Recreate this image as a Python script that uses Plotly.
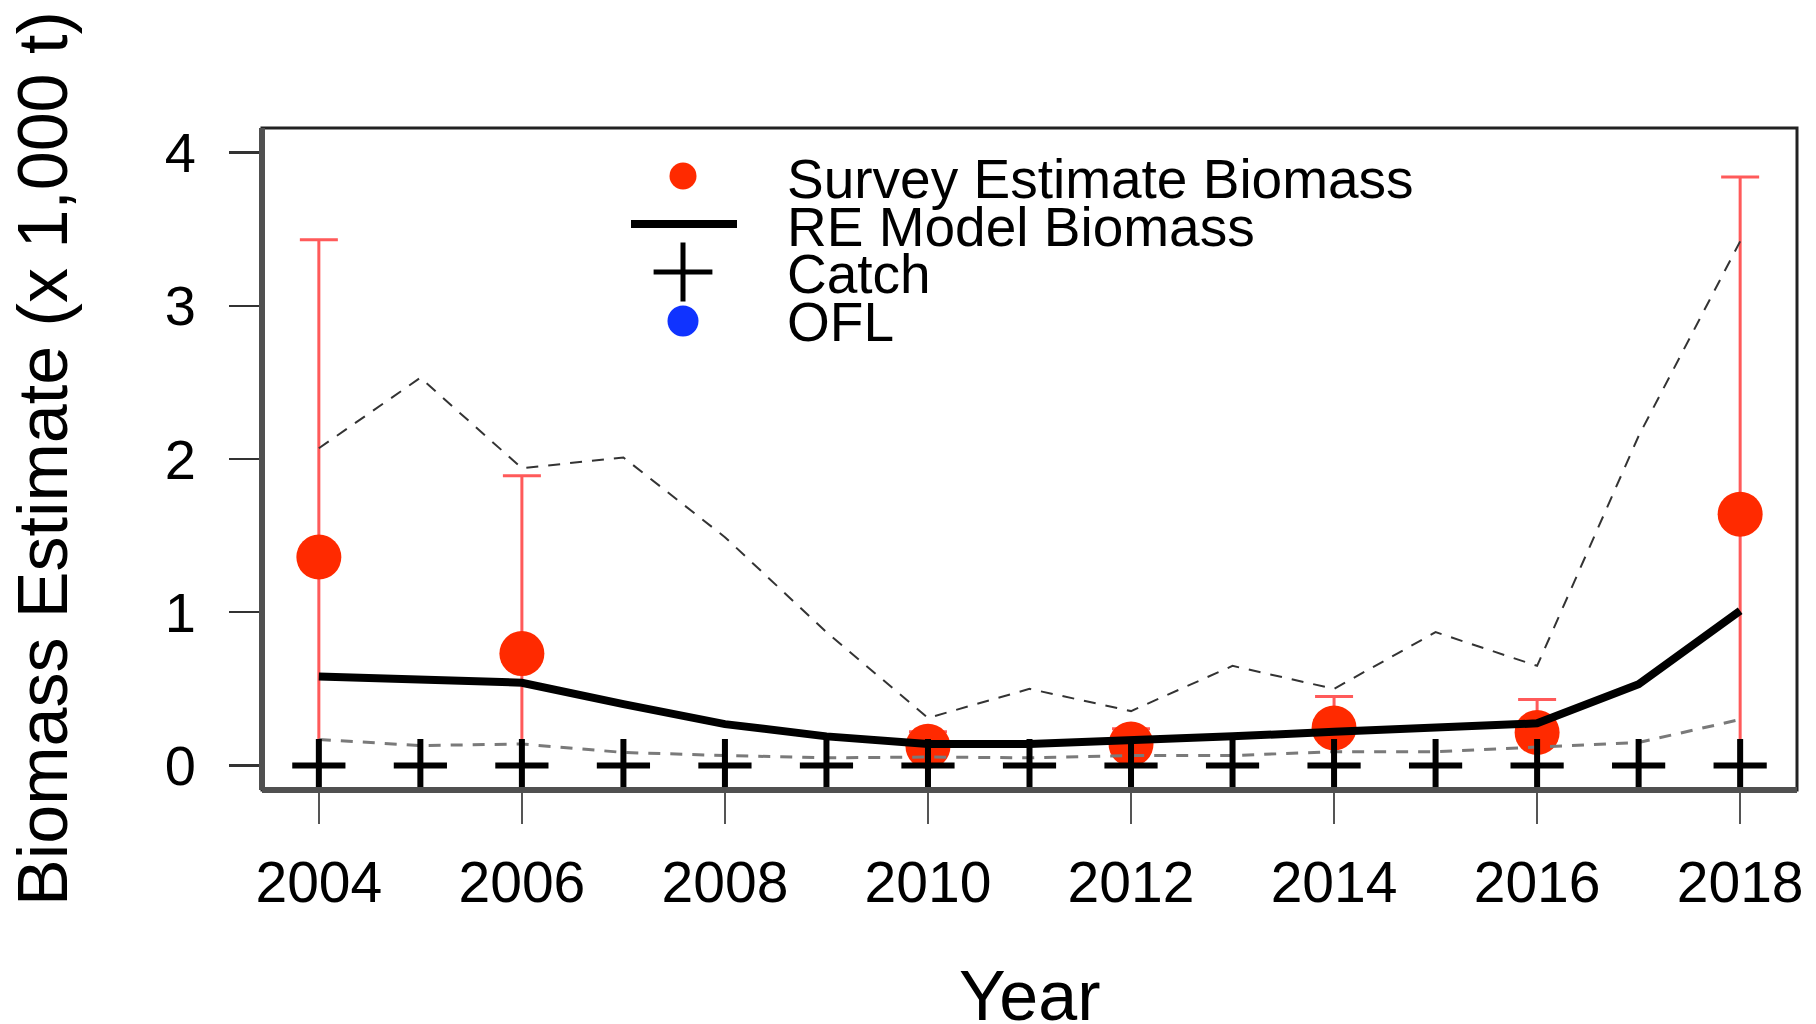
import plotly.graph_objects as go

# ---------------- data ----------------
years = [2004, 2005, 2006, 2007, 2008, 2009, 2010, 2011, 2012, 2013, 2014, 2015, 2016, 2017, 2018]
re_biomass = [0.58, 0.56, 0.54, 0.40, 0.27, 0.19, 0.14, 0.14, 0.16, 0.19, 0.22, 0.245, 0.275, 0.53, 1.01]
re_upper = [2.07, 2.53, 1.94, 2.01, 1.49, 0.87, 0.31, 0.50, 0.355, 0.65, 0.50, 0.87, 0.65, 2.15, 3.42]
re_lower = [0.17, 0.13, 0.14, 0.085, 0.065, 0.05, 0.055, 0.05, 0.065, 0.065, 0.09, 0.09, 0.12, 0.15, 0.30]
catch = [0.0, 0.0, 0.0, 0.0, 0.0, 0.0, 0.0, 0.0, 0.0, 0.0, 0.0, 0.0, 0.0, 0.0, 0.0]

survey_years = [2004, 2006, 2010, 2012, 2014, 2016, 2018]
survey_biomass = [1.36, 0.73, 0.125, 0.14, 0.245, 0.215, 1.64]
survey_upper = [3.43, 1.89, 0.22, 0.24, 0.45, 0.43, 3.84]
survey_lower = [0.0, 0.0, 0.0, 0.0, 0.0, 0.0, 0.0]

x_ticks = [2004, 2006, 2008, 2010, 2012, 2014, 2016, 2018]
y_ticks = [0, 1, 2, 3, 4]

legend_labels = ["Survey Estimate Biomass", "RE Model Biomass", "Catch", "OFL"]

FONT = "Liberation Sans, Arial, Helvetica, sans-serif"
W, H = 1816, 1024
L, R, T, B = 262, 1797, 128, 790  # plot-area pixel box

fig = go.Figure()

# survey estimates with error bars
fig.add_trace(go.Scatter(
    x=survey_years, y=survey_biomass, mode="markers",
    marker=dict(color="#ff2a00", size=45, line=dict(width=0)),
    error_y=dict(type="data", symmetric=False,
                 array=[u - v for u, v in zip(survey_upper, survey_biomass)],
                 arrayminus=[v - l for v, l in zip(survey_biomass, survey_lower)],
                 color="#ff5a5a", thickness=3, width=19),
    showlegend=False, cliponaxis=False))

# confidence bounds of RE model
fig.add_trace(go.Scatter(x=years, y=re_upper, mode="lines",
                         line=dict(color="#333333", width=2, dash="12px,10px"),
                         showlegend=False))
fig.add_trace(go.Scatter(x=years, y=re_lower, mode="lines",
                         line=dict(color="#7a7a7a", width=3, dash="12px,10px"),
                         showlegend=False))
# RE model biomass
fig.add_trace(go.Scatter(x=years, y=re_biomass, mode="lines",
                         line=dict(color="black", width=8),
                         showlegend=False))
# catch
fig.add_trace(go.Scatter(x=years, y=catch, mode="markers",
                         marker=dict(symbol="cross-thin", size=38,
                                     line=dict(color="black", width=6)),
                         showlegend=False, cliponaxis=False))

# ---------------- manual legend on a pixel helper axis ----------------
leg_x = 683
leg_rows = [176, 224, 272, 321]
fig.add_trace(go.Scatter(x=[leg_x], y=[leg_rows[0]], xaxis="x2", yaxis="y2", mode="markers",
                         marker=dict(color="#ff2a00", size=27), showlegend=False, hoverinfo="skip"))
fig.add_trace(go.Scatter(x=[631, 737], y=[leg_rows[1], leg_rows[1]], xaxis="x2", yaxis="y2",
                         mode="lines", line=dict(color="black", width=8),
                         showlegend=False, hoverinfo="skip"))
fig.add_trace(go.Scatter(x=[leg_x], y=[leg_rows[2]], xaxis="x2", yaxis="y2", mode="markers",
                         marker=dict(symbol="cross-thin", size=42, line=dict(color="black", width=5)),
                         showlegend=False, hoverinfo="skip"))
fig.add_trace(go.Scatter(x=[leg_x], y=[leg_rows[3]], xaxis="x2", yaxis="y2", mode="markers",
                         marker=dict(color="#1033ff", size=31), showlegend=False, hoverinfo="skip"))

annotations = []
for lab, yy in zip(legend_labels, [179, 227, 274, 322]):
    annotations.append(dict(text=lab, x=785, y=yy, xref="x2", yref="y2",
                            xanchor="left", yanchor="middle", showarrow=False,
                            font=dict(family=FONT, size=55, color="black")))

# axis titles
annotations.append(dict(text="Year", x=0.5, y=(B - 996) / (B - T), xref="paper", yref="paper",
                        xanchor="center", yanchor="middle", showarrow=False,
                        font=dict(family=FONT, size=70, color="black")))
annotations.append(dict(text="Biomass Estimate (x 1,000 t)", x=(43 - L) / (R - L), y=0.5,
                        xref="paper", yref="paper", textangle=-90,
                        xanchor="center", yanchor="middle", showarrow=False,
                        font=dict(family=FONT, size=70, color="black")))

shapes = [
    dict(type="rect", xref="paper", yref="paper", x0=0, x1=1, y0=0, y1=1,
         line=dict(color="#222222", width=3), layer="above"),
    dict(type="line", xref="paper", yref="paper", x0=0, x1=0, y0=0, y1=1,
         line=dict(color="#505050", width=6), layer="above"),
    dict(type="line", xref="paper", yref="paper", x0=0, x1=1, y0=0, y1=0,
         line=dict(color="#505050", width=6), layer="above"),
]

fig.update_layout(
    width=W, height=H,
    margin=dict(l=L, r=W - R, t=T, b=H - B, pad=0),
    paper_bgcolor="white", plot_bgcolor="white",
    showlegend=False,
    font=dict(family=FONT, color="black"),
    xaxis=dict(range=[2003.44, 2018.56], tickvals=x_ticks, ticktext=[str(v) for v in x_ticks],
               ticks="outside", ticklen=33, tickwidth=2, tickcolor="#555555",
               tickfont=dict(family=FONT, size=57, color="black"), ticklabelstandoff=10,
               showgrid=False, zeroline=False, showline=False, fixedrange=True),
    yaxis=dict(range=[-0.16, 4.16], tickvals=y_ticks, ticktext=[str(v) for v in y_ticks],
               ticks="outside", ticklen=32, tickwidth=2.5, tickcolor="#333333",
               tickfont=dict(family=FONT, size=56, color="black"), ticklabelstandoff=22,
               showgrid=False, zeroline=False, showline=False, fixedrange=True),
    xaxis2=dict(range=[L, R], overlaying="x", visible=False, fixedrange=True),
    yaxis2=dict(range=[B, T], overlaying="y", visible=False, fixedrange=True),
    annotations=annotations,
    shapes=shapes,
)

fig.write_html("out.html",
               config={"displayModeBar": False, "staticPlot": True},
               post_script="document.body.style.margin='0';document.body.style.overflow='hidden';")
